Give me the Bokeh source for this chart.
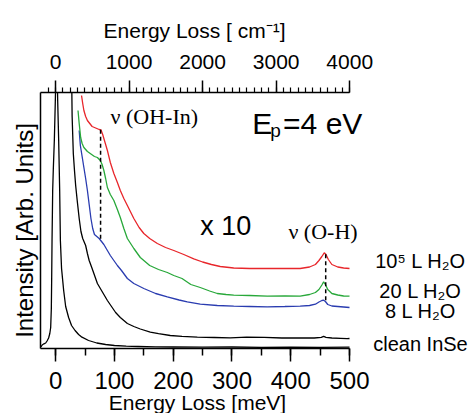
import math
from bokeh.plotting import figure
from bokeh.models import Range1d, LinearAxis, SingleIntervalTicker, FixedTicker, Label
from bokeh.embed import file_html
from bokeh.resources import INLINE

NaN = float("nan")

# ---- data (energy loss in meV, intensity in arb. units) ----
# elastic peak of clean InSe (x1); it leaves the top of the plot between the two NaN-separated parts
E_clean1 = [-25, -23, -20, -17, -14.7, -12, -10, -8.5, -7.4, -6.8, -6.2, -5.6, -5.1, -4, -2.3, -0.6, -0.3,
            1, 3.2, 3.4, 5.1, 6.8, 8, 10, 13.6, 17, 22, 27, 33, 39, 44.7, 56, 70, 85, 100, 120, 140, 170,
            200, 250, 300, 350, 400, 450, 500]
I_clean1 = [1.7, 3.5, 4.7, 5.5, 7.5, 10.5, 15, 21, 40, 70, 108, 135, 158, 180, 208, 248, 256,
            NaN, 256, 248, 208, 158, 108, 80, 58, 42, 31, 23, 18, 14, 11.3, 8, 5.5, 4, 3, 2.3, 2, 1.6,
            1.5, 1.3, 1.5, 1.2, 1.4, 1.2, 1.3]

E_clean10 = [27.5, 28, 30, 32, 34, 37, 40, 43, 46, 51, 54, 57, 62, 71, 80, 88, 95, 102, 110, 122,
             133, 144, 161, 175, 195, 215, 241, 270, 297, 325, 355, 385, 411, 440, 452, 456, 460,
             470, 485, 496, 500]
I_clean10 = [256, 232, 195, 178, 163, 146, 130, 117, 110, 103, 95, 88, 80, 65, 56, 48, 42, 36, 31, 25,
             22, 19.5, 16.3, 14.8, 13, 12.2, 11.3, 11, 10.7, 11.4, 11.2, 10.5, 10.7, 10.5, 11.2, 12.2, 11.2,
             10.5, 10.2, 9.8, 10]

E_8L = [40, 42, 45, 48, 51, 54, 57, 60, 63, 66, 70, 74, 78, 82, 88, 93, 99, 105, 112, 122, 133,
        150, 170, 190, 210, 224, 246, 275, 303, 330, 360, 390, 416, 432, 442, 448, 453, 456, 459,
        463, 470, 480, 490, 500]
I_8L = [218, 203, 192, 181, 170, 158, 144, 130, 120, 114, 112, 110, 107, 104, 98, 93, 88, 83, 78, 70, 65,
        60, 55, 51.7, 48.5, 46.7, 44.3, 43, 42.3, 42, 41.7, 42, 42.3, 43, 44.3, 46.5, 48, 48.3, 47,
        44, 42.5, 42, 41.5, 41]

E_20L = [38, 40, 42.5, 45, 48, 54, 60, 66, 71, 76, 79, 82, 85, 88, 93, 99, 105, 110, 116, 122, 133,
         144, 160, 175, 190, 201, 215, 230, 246, 262, 275, 290, 303, 330, 360, 390, 416, 432, 442,
         448, 453, 456, 459, 463, 470, 480, 490, 500]
I_20L = [238, 225, 211, 205, 201, 197, 194.5, 192, 191, 188, 184, 178, 170, 161, 154, 148, 139, 131, 120,
         110, 100, 91, 83, 79, 76, 73, 70, 64, 61, 57.5, 55, 54, 53.3, 53, 52.3, 52.5, 52.3, 54, 56,
         59, 63.5, 66.7, 64, 59, 55, 53.5, 52.5, 52.3]

E_1e5L = [44, 46, 48, 51, 54, 58, 62, 66, 70, 74, 77, 80, 84, 88, 93, 99, 105, 110, 116, 122, 133,
          142, 150, 160, 173, 187, 201, 218, 235, 250, 265, 280, 303, 330, 360, 390, 416, 432, 442,
          448, 453, 457, 460, 464, 470, 480, 490, 500]
I_1e5L = [253, 245, 238, 232, 228, 225, 222, 221, 220, 219, 218.7, 214, 206, 198, 186, 175, 166, 158, 150,
          143, 130, 121, 115, 110, 105, 101, 98, 94, 89.7, 86.5, 84, 82, 80.5, 80, 80, 80, 80, 81.5, 84,
          88, 92, 95.7, 94, 89, 84, 81.5, 80.5, 80]

# marker dashed lines: (energy, low, high)
OHIn_E, OHIn_lo, OHIn_hi = 76.4, 109.7, 218.7
OH_E, OH_lo, OH_hi = 459.5, 48.3, 95.7

# axis extents
meV_lo, meV_hi = -25, 500.5
cm_lo, cm_hi = -197, 4001
I_lo, I_hi = 0, 256
meV_ticks_interval = 100
cm_ticks_interval = 1000

SANS = "Liberation Sans"
SERIF = "Liberation Serif"

W, H = 471, 413
X0, X1 = -93.9, 707.6
p = figure(width=W, height=H, x_range=Range1d(X0, X1), y_range=Range1d(-65, 348),
           output_backend="svg", toolbar_location=None,
           min_border_left=0, min_border_right=0, min_border_top=0, min_border_bottom=0,
           x_axis_location=None, y_axis_location=None)
p.outline_line_color = None
p.background_fill_color = "white"
p.border_fill_color = "white"
p.grid.visible = False

k = (cm_hi - cm_lo) / (meV_hi - meV_lo)
p.extra_x_ranges = {"cm": Range1d(cm_lo + (X0 - meV_lo) * k, cm_lo + (X1 - meV_lo) * k)}

# bottom axis
xa = LinearAxis(fixed_location=I_lo, bounds=(meV_lo, meV_hi),
                ticker=SingleIntervalTicker(interval=meV_ticks_interval, num_minor_ticks=2))
xa.major_tick_in = 0
xa.major_tick_out = 13
xa.minor_tick_in = 0
xa.minor_tick_out = 7
xa.axis_line_width = 1.5
xa.major_tick_line_width = 1.5
xa.minor_tick_line_width = 1.5
xa.major_label_text_font = SANS
xa.major_label_text_font_size = "24px"
xa.major_label_text_color = "black"
xa.major_label_standoff = 10
p.add_layout(xa, "below")

# left axis: line only
ya = LinearAxis(fixed_location=meV_lo, bounds=(I_lo, I_hi), ticker=FixedTicker(ticks=[]))
ya.major_tick_line_color = None
ya.minor_tick_line_color = None
ya.major_label_text_font_size = "0px"
ya.axis_line_width = 1.5
p.add_layout(ya, "left")

# top axis in cm^-1
ta = LinearAxis(x_range_name="cm", fixed_location=I_hi, bounds=(cm_lo, cm_hi),
                ticker=SingleIntervalTicker(interval=cm_ticks_interval, num_minor_ticks=10))
ta.major_tick_in = 0
ta.major_tick_out = 12
ta.minor_tick_in = 0
ta.minor_tick_out = 5
ta.axis_line_width = 1.5
ta.major_tick_line_width = 1.5
ta.minor_tick_line_width = 1.2
ta.major_label_text_font = SANS
ta.major_label_text_font_size = "21px"
ta.major_label_text_color = "black"
ta.major_label_standoff = 12
p.add_layout(ta, "above")

# curves
p.line(E_clean1, I_clean1, line_color="black", line_width=1.3)
p.line(E_clean10, I_clean10, line_color="black", line_width=1.3)
p.line(E_8L, I_8L, line_color="#2a3cb0", line_width=1.3)
p.line(E_20L, I_20L, line_color="#28a83a", line_width=1.3)
p.line(E_1e5L, I_1e5L, line_color="#e8262b", line_width=1.3)

p.segment(x0=[OHIn_E, OH_E], y0=[OHIn_lo, OH_lo], x1=[OHIn_E, OH_E], y1=[OHIn_hi, OH_hi],
          line_color="black", line_width=1.5, line_dash="4 3")

def lab(x, y, text, size, font=SANS, align="left", angle=0.0):
    p.add_layout(Label(x=x, y=y, text=text, text_font=font, text_font_size=size,
                       text_align=align, text_baseline="middle", angle=angle,
                       text_color="black"))

lab(-53.1, 118, "Intensity [Arb. Units]", "24px", align="center", angle=math.pi / 2)
lab(241.3, -54, "Energy Loss [meV]", "21px", align="center")
lab(241.3, 318.3, "Energy Loss  [ cm⁻¹]", "21px", align="center")

lab(93.4, 232.5, "ν (OH-In)", "22px", font=SERIF)
lab(334.6, 225.4, "E", "30px")
lab(365.2, 218.0, "p", "19px")
lab(387, 225.4, "=4 eV", "30px")
lab(246, 122.4, "x 10", "27px")
lab(396, 117.5, "ν (O-H)", "22px", font=SERIF)

lab(620.8, 87.9, "10⁵ L H₂O", "20px", align="center")
lab(620.8, 57.9, "20 L H₂O", "20px", align="center")
lab(620.8, 37.9, "8 L H₂O", "20px", align="center")
lab(620.8, 4.9, "clean InSe", "20px", align="center")

open("out.html", "w").write(file_html(p, INLINE))
